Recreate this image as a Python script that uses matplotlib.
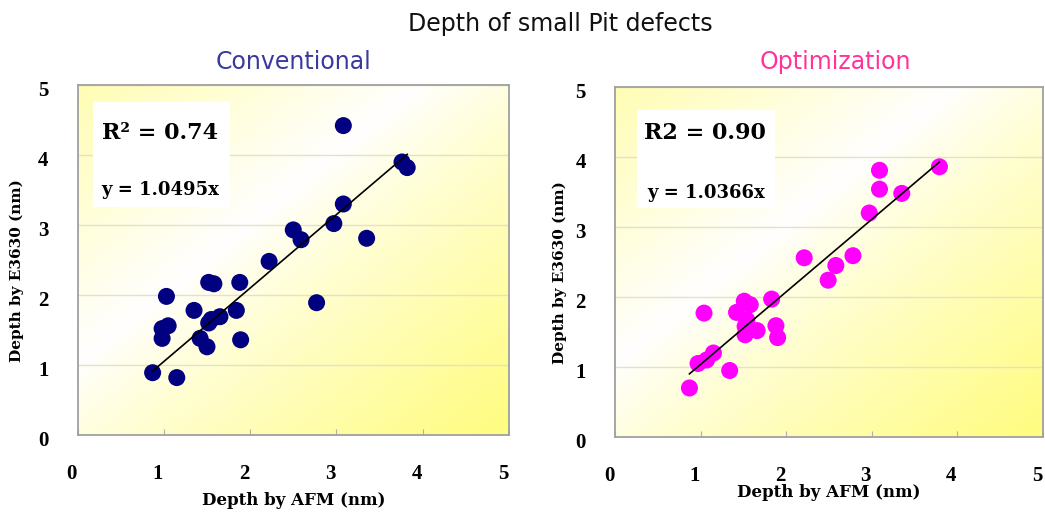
import numpy as np
import matplotlib
matplotlib.use("Agg")
import matplotlib.pyplot as plt
from matplotlib.patches import Rectangle
from matplotlib.transforms import ScaledTranslation

# data
conv_x = [3.08, 3.76, 3.82, 3.08, 2.97, 3.35, 2.50, 2.59, 2.22, 1.88, 1.52, 1.58, 1.03,
          1.35, 1.84, 2.77, 1.65, 1.55, 1.52, 1.05, 0.98, 0.98, 1.42, 1.50, 1.89, 0.87, 1.15]
conv_y = [4.42, 3.90, 3.82, 3.30, 3.02, 2.81, 2.93, 2.79, 2.48, 2.18, 2.18, 2.16, 1.98,
          1.78, 1.78, 1.89, 1.69, 1.65, 1.60, 1.56, 1.52, 1.38, 1.38, 1.26, 1.36, 0.89, 0.82]
conv_slope = 1.0495
conv_r2 = "R² = 0.74"

opt_x = [3.79, 3.09, 3.09, 3.35, 2.97, 2.78, 2.58, 2.49, 2.21, 1.83, 1.51, 1.58, 1.42,
         1.04, 1.54, 1.88, 1.52, 1.66, 1.52, 1.90, 1.15, 1.07, 0.97, 1.34, 0.87]
opt_y = [3.86, 3.81, 3.54, 3.48, 3.20, 2.59, 2.45, 2.24, 2.56, 1.97, 1.94, 1.89, 1.78,
         1.77, 1.67, 1.59, 1.58, 1.52, 1.46, 1.42, 1.20, 1.10, 1.05, 0.95, 0.70]
opt_slope = 1.0366
opt_r2 = "R2 = 0.90"

ticks = [0, 1, 2, 3, 4, 5]

fig = plt.figure(figsize=(10.45, 5.12), dpi=100)


def background(ax):
    n = 200
    U, V = np.meshgrid(np.linspace(0, 1, n), np.linspace(1, 0, n))
    t = (U + (1 - V)) / 2
    f = np.where(t < 0.4, (0.4 - t) / 0.4 * 0.6, ((t - 0.4) / 0.6) ** 0.8)
    rgb = np.dstack([np.ones_like(f), 1 - 0.01 * f, 1 - 0.5 * f])
    ax.imshow(rgb, extent=(0, 1, 0, 1), transform=ax.transAxes,
              aspect="auto", zorder=0, origin="upper")


def panel(rect, xs, ys, color, slope, r2, eq, box, r2pos, eqpos, xlab_y, ylab_x):
    ax = fig.add_axes(rect)
    background(ax)
    ax.scatter(xs, ys, s=150, color=color, edgecolors="none", zorder=3)
    xl = np.array([min(xs), max(xs)])
    ax.plot(xl, slope * xl, color="black", lw=1.2, zorder=4)
    ax.set_xlim(0, 5)
    ax.set_ylim(0, 5)
    ax.set_xticks(ticks)
    ax.set_yticks(ticks)
    ax.grid(axis="y", color="#e2e2c6", lw=1, zorder=1)
    for s in ax.spines.values():
        s.set_color("#a0a0a0")
        s.set_linewidth(1.3)
    ax.tick_params(axis="x", direction="in", length=4, color="#b0b0b0", pad=21)
    ax.tick_params(axis="y", length=0, pad=21)
    for lab in ax.get_xticklabels() + ax.get_yticklabels():
        lab.set_fontfamily("Liberation Serif")
        lab.set_fontweight("bold")
        lab.set_fontsize(15)
    off_x = ScaledTranslation(-6 / 100, 0, fig.dpi_scale_trans)
    off_y = ScaledTranslation(0, -4 / 100, fig.dpi_scale_trans)
    for lab in ax.get_xticklabels():
        lab.set_transform(lab.get_transform() + off_x)
    for lab in ax.get_yticklabels():
        lab.set_transform(lab.get_transform() + off_y)
    ax.set_xlabel("Depth by AFM (nm)", family="DejaVu Serif", weight="bold",
                  fontsize=12, va="center")
    ax.set_ylabel("Depth by E3630 (nm)", family="DejaVu Serif", weight="bold",
                  fontsize=11, va="center")
    ax.xaxis.set_label_coords(0.5, xlab_y)
    ax.yaxis.set_label_coords(ylab_x, 0.47)
    ax.add_patch(Rectangle((box[0], box[1]), box[2], box[3], transform=ax.transAxes,
                           facecolor="white", edgecolor="none", zorder=2))
    ax.text(r2pos[0], r2pos[1], r2, transform=ax.transAxes, ha="center", va="center",
            family="DejaVu Serif", weight="bold", fontsize=16, zorder=5)
    ax.text(eqpos[0], eqpos[1], eq, transform=ax.transAxes, ha="center", va="center",
            family="DejaVu Serif", weight="bold", fontsize=13, zorder=5)
    return ax


panel([0.0742, 0.1504, 0.4129, 0.6836], conv_x, conv_y, "#000080", conv_slope,
      conv_r2, "y = 1.0495x", (0.035, 0.651, 0.319, 0.300), (0.19, 0.863), (0.191, 0.70),
      -0.186, -0.14)
panel([0.5885, 0.1465, 0.4096, 0.6836], opt_x, opt_y, "#ff00ff", opt_slope,
      opt_r2, "y = 1.0366x", (0.051, 0.654, 0.323, 0.280), (0.211, 0.869), (0.213, 0.697),
      -0.16, -0.13)

fig.text(0.536, 0.939, "Depth of small Pit defects", ha="center", va="baseline",
         family="DejaVu Sans", fontsize=17, color="#111111")
fig.text(0.281, 0.865, "Conventional", ha="center", va="baseline",
         family="DejaVu Sans", fontsize=17, color="#3a3a9e")
fig.text(0.799, 0.865, "Optimization", ha="center", va="baseline",
         family="DejaVu Sans", fontsize=17, color="#ff3399")

fig.savefig("out.png", dpi=100)
